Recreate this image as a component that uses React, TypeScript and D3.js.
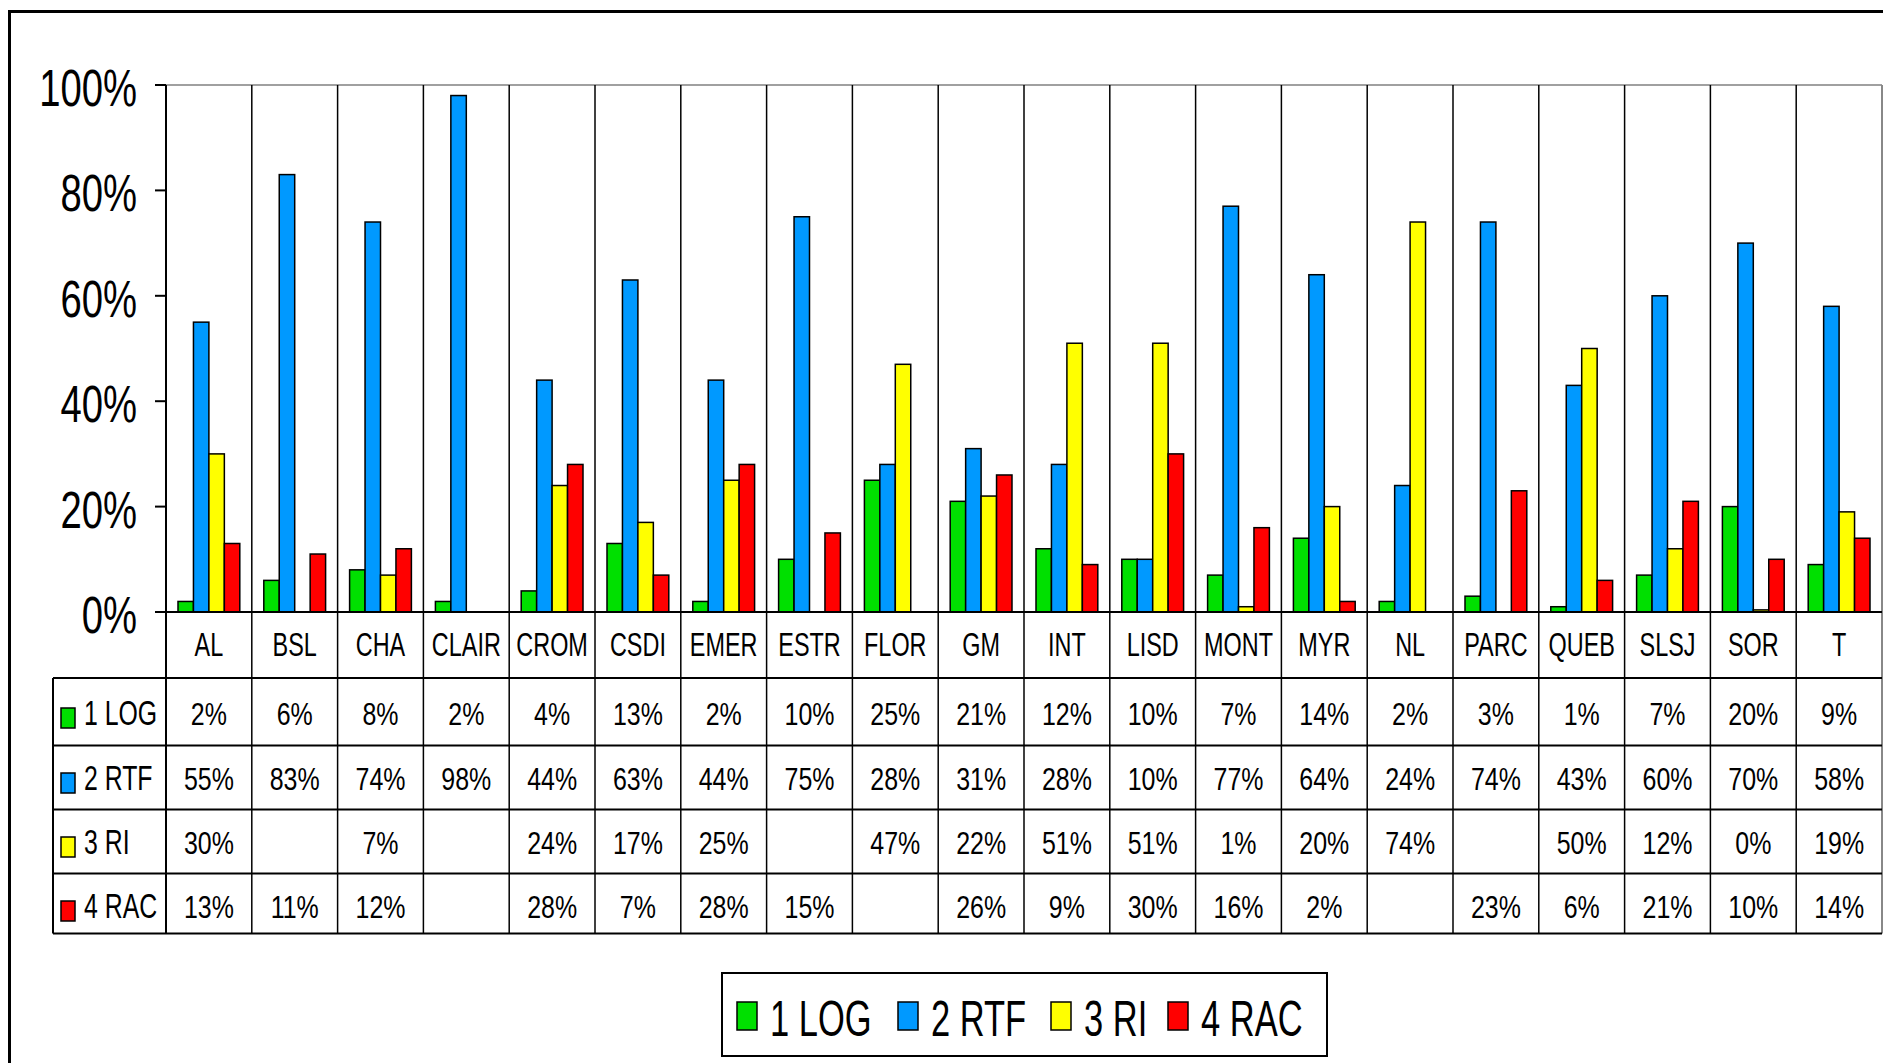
import React from "react";
import * as d3 from "d3";

const categories = ["AL","BSL","CHA","CLAIR","CROM","CSDI","EMER","ESTR","FLOR","GM","INT","LISD","MONT","MYR","NL","PARC","QUEB","SLSJ","SOR","T"];
const seriesNames = ["1 LOG","2 RTF","3 RI","4 RAC"];
const seriesColors = ["#00E000","#0099FF","#FFFF00","#FF0000"];
const log = [2,6,8,2,4,13,2,10,25,21,12,10,7,14,2,3,1,7,20,9];
const rtf = [55,83,74,98,44,63,44,75,28,31,28,10,77,64,24,74,43,60,70,58];
const ri: (number|null)[] = [30,null,7,null,24,17,25,null,47,22,51,51,1,20,74,null,50,12,0.4,19];
const rac: (number|null)[] = [13,11,12,null,28,7,28,15,null,26,9,30,16,2,null,23,6,21,10,14];
const yTicks = [0,20,40,60,80,100];

const series: (number|null)[][] = [log, rtf, ri, rac];

const FONT = "'Liberation Sans', Arial, sans-serif";

function SText({x, y, sx, size, anchor, children}: any) {
  return (
    <text transform={`translate(${x},${y}) scale(${sx},1)`} fontSize={size} fontFamily={FONT} textAnchor={anchor} fill="#000">{children}</text>
  );
}

export default function App() {
  const W = 1883, H = 1063;
  const left = 166, right = 1882, top = 85, bottom = 612;
  const x = d3.scaleBand<string>().domain(categories).range([left, right]).padding(0);
  const bw = x.bandwidth();
  const inner = d3.scaleBand<number>().domain([0,1,2,3]).range([12, bw - 12]).padding(0);
  const y = d3.scaleLinear().domain([0, 100]).range([bottom, top]);
  const rowLines = [678, 745.5, 809.5, 873.5, 933.5];
  const rowBase = [725, 790, 854, 918];
  const fmt = (v: number | null) => (v == null ? "" : Math.round(v) + "%");
  const legendX = [737, 898, 1051, 1168];

  return (
    <svg width={W} height={H} style={{position: "absolute", left: 0, top: 0, background: "#fff"}}>
      <rect x={0} y={0} width={W} height={H} fill="#fff" />
      {/* outer frame */}
      <rect x={9.5} y={11.5} width={W + 20} height={H + 20} fill="none" stroke="#000" strokeWidth={3} />

      {/* top gridline */}
      <line x1={left} x2={right} y1={top} y2={top} stroke="#a0a0a0" strokeWidth={2} />

      {/* bars */}
      {categories.map((c, i) => (
        <g key={c}>
          {series.map((s, k) => {
            const v = s[i];
            if (v == null) return null;
            const bx = (x(c) as number) + (inner(k) as number);
            return (
              <rect key={k} x={bx} y={y(v)} width={inner.bandwidth()} height={bottom - y(v)}
                fill={seriesColors[k]} stroke="#000" strokeWidth={1.5} />
            );
          })}
        </g>
      ))}

      {/* column separators */}
      {categories.slice(1).map((c) => (
        <line key={c} x1={x(c)} x2={x(c)} y1={top} y2={rowLines[4]} stroke="#000" strokeWidth={1.5} />
      ))}
      <line x1={right} x2={right} y1={top} y2={rowLines[4]} stroke="#888" strokeWidth={2} />

      {/* y axis */}
      <line x1={left} x2={left} y1={top} y2={rowLines[4]} stroke="#000" strokeWidth={2} />
      {yTicks.map((t) => (
        <g key={t}>
          <line x1={155} x2={left} y1={y(t)} y2={y(t)} stroke="#000" strokeWidth={2} />
          <SText x={137} y={y(t) + 21} sx={0.75} size={51} anchor="end">{t + "%"}</SText>
        </g>
      ))}
      {/* x axis */}
      <line x1={155} x2={right} y1={bottom} y2={bottom} stroke="#000" strokeWidth={2} />

      {/* category labels */}
      {categories.map((c) => (
        <SText key={c} x={(x(c) as number) + bw / 2} y={656} sx={0.71} size={33} anchor="middle">{c}</SText>
      ))}

      {/* table */}
      {rowLines.map((ry, i) => (
        <line key={i} x1={53} x2={right} y1={ry} y2={ry} stroke="#000" strokeWidth={2} />
      ))}
      <line x1={53} x2={53} y1={rowLines[0]} y2={rowLines[4]} stroke="#000" strokeWidth={2} />
      {seriesNames.map((n, k) => (
        <g key={n}>
          <rect x={61} y={rowBase[k] - 17} width={14} height={20} fill={seriesColors[k]} stroke="#000" strokeWidth={1.5} />
          <SText x={84} y={rowBase[k]} sx={0.69} size={36} anchor="start">{n}</SText>
          {categories.map((c, i) => (
            <SText key={c} x={(x(c) as number) + bw / 2} y={rowBase[k]} sx={0.78} size={32} anchor="middle">{fmt(series[k][i])}</SText>
          ))}
        </g>
      ))}

      {/* legend */}
      <rect x={722} y={973} width={605} height={83} fill="#fff" stroke="#000" strokeWidth={2} />
      {seriesNames.map((n, k) => (
        <g key={n}>
          <rect x={legendX[k]} y={1002} width={20} height={28} fill={seriesColors[k]} stroke="#000" strokeWidth={1.5} />
          <SText x={legendX[k] + 33} y={1036} sx={0.69} size={50} anchor="start">{n}</SText>
        </g>
      ))}
    </svg>
  );
}
